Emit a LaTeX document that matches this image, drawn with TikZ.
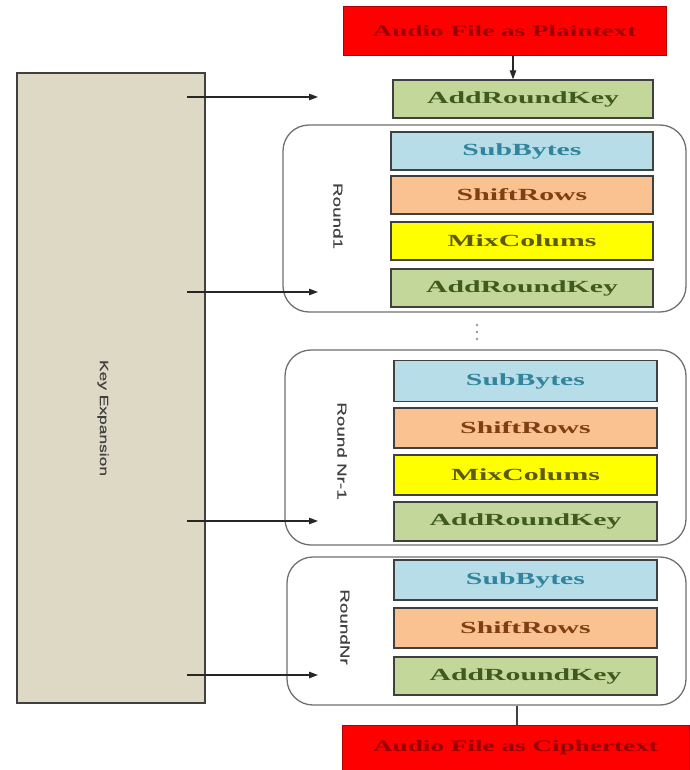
\documentclass[tikz,border=0pt]{standalone}
\usepackage{fontspec}
\setmainfont{Liberation Serif}
\newfontfamily\stagefont[FakeStretch=1.75]{Liberation Serif}
\newfontfamily\redfont[FakeStretch=1.7]{Liberation Serif}
\newfontfamily\lblfont[FakeStretch=1.45,FakeBold=0.6]{Liberation Sans}
\usetikzlibrary{arrows.meta}
\definecolor{edgegray}{HTML}{404040}
\definecolor{subfill}{HTML}{B7DEE8}
\definecolor{subtext}{HTML}{31849B}
\definecolor{shiftfill}{HTML}{FAC191}
\definecolor{shifttext}{HTML}{7F3F12}
\definecolor{mixfill}{HTML}{FFFF00}
\definecolor{mixtext}{HTML}{5C5A10}
\definecolor{arkfill}{HTML}{C4D79B}
\definecolor{arktext}{HTML}{3F5A1E}
\definecolor{kefill}{HTML}{DDD9C4}
\definecolor{redfill}{HTML}{FF0000}
\definecolor{redtext}{HTML}{990000}
\definecolor{roundgray}{HTML}{707070}
\definecolor{lblgray}{HTML}{404040}
\begin{document}
\begin{tikzpicture}[x=1pt,y=-1pt,
  stagebox/.style={draw=edgegray, line width=1.3pt, minimum width=262pt, minimum height=38pt, inner sep=0pt,
    font=\stagefont\bfseries\fontsize{17}{17}\selectfont},
  subbox/.style={stagebox, fill=subfill, text=subtext},
  shiftbox/.style={stagebox, fill=shiftfill, text=shifttext},
  mixbox/.style={stagebox, fill=mixfill, text=mixtext},
  arkbox/.style={stagebox, fill=arkfill, text=arktext},
  iobox/.style={draw=redfill!70!black, line width=0.8pt, fill=redfill, text=redtext, inner sep=0pt,
    font=\redfont\bfseries\fontsize{16}{16}\selectfont},
  roundbox/.style={draw=roundgray, line width=1.3pt, rounded corners=26pt, fill=white, inner sep=0pt},
  roundlbl/.style={rotate=-90, text=lblgray, inner sep=0pt, font=\lblfont\fontsize{13}{13}\selectfont},
  keyarrow/.style={draw=black!85, line width=1.1pt, -{Triangle[length=9pt,width=6.5pt]}},
  plainline/.style={draw=black!75, line width=1.3pt},
  dotmark/.style={fill=black!40, draw=none, circle, inner sep=0pt, minimum size=2.6pt}
]
\useasboundingbox (0,0) rectangle (689,770);
\fill[white] (0,0) rectangle (689,770);

% key expansion
\node[draw=edgegray, line width=1.6pt, fill=kefill, minimum width=188pt, minimum height=630pt, inner sep=0pt] (ke) at (111,388) {};
\node[roundlbl, font=\lblfont\fontsize{12}{12}\selectfont] (kelbl) at (103,418) {Key Expansion};

% round boxes
\node[roundbox, minimum width=403pt, minimum height=187pt] (r1) at (484.5,218.5) {};
\node[roundbox, minimum width=401pt, minimum height=195pt] (r2) at (485.5,447.5) {};
\node[roundbox, minimum width=399pt, minimum height=148pt] (r3) at (486.5,631) {};

\node[roundlbl] (l1) at (338,216) {Round1};
\node[roundlbl] (l2) at (342,451) {Round Nr-1};
\node[roundlbl] (l3) at (345,627) {RoundNr};

% input / output
\node[iobox, minimum width=323pt, minimum height=49pt] (pin) at (504.5,31) {Audio File as Plaintext};
\node[iobox, minimum width=347pt, minimum height=46pt] (pout) at (515.5,748) {Audio File as Ciphertext};

% stages
\node[arkbox, minimum width=260pt] (ark0) at (523,99) {AddRoundKey};

\node[subbox] (sb1) at (522,151) {SubBytes};
\node[shiftbox] (sr1) at (522,195) {ShiftRows};
\node[mixbox] (mc1) at (522,241) {MixColums};
\node[arkbox] (ark1) at (522,288) {AddRoundKey};

\node[subbox, minimum width=263pt, minimum height=41pt] (sb2) at (525.5,381) {SubBytes};
\node[shiftbox, minimum width=263pt, minimum height=40pt] (sr2) at (525.5,428) {ShiftRows};
\node[mixbox, minimum width=263pt, minimum height=40pt] (mc2) at (525.5,475) {MixColums};
\node[arkbox, minimum width=263pt, minimum height=39pt] (ark2) at (525.5,521.5) {AddRoundKey};

\node[subbox, minimum width=263pt, minimum height=40pt] (sb3) at (525.5,580) {SubBytes};
\node[shiftbox, minimum width=263pt, minimum height=40pt] (sr3) at (525.5,628) {ShiftRows};
\node[arkbox, minimum width=263pt, minimum height=38pt] (ark3) at (525.5,676) {AddRoundKey};

% vertical dots
\node[dotmark] (d1) at (477,325) {};
\node[dotmark] (d2) at (477,332) {};
\node[dotmark] (d3) at (477,339) {};

% connectors
\draw[keyarrow] ([xshift=-10pt]ark0.north |- pin.south) -- ([xshift=-10pt]ark0.north);
\draw[plainline] ([xshift=-8.5pt]ark3.south |- r3.south) -- ([xshift=-8.5pt]ark3.south |- pout.north);

\coordinate (k0) at (187,97);  \coordinate (e0) at (318,97);
\coordinate (k1) at (187,292); \coordinate (e1) at (318,292);
\coordinate (k2) at (187,521); \coordinate (e2) at (318,521);
\coordinate (k3) at (187,675); \coordinate (e3) at (318,675);
\draw[keyarrow] (k0) -- (e0);
\draw[keyarrow] (k1) -- (e1);
\draw[keyarrow] (k2) -- (e2);
\draw[keyarrow] (k3) -- (e3);
\end{tikzpicture}
\end{document}
